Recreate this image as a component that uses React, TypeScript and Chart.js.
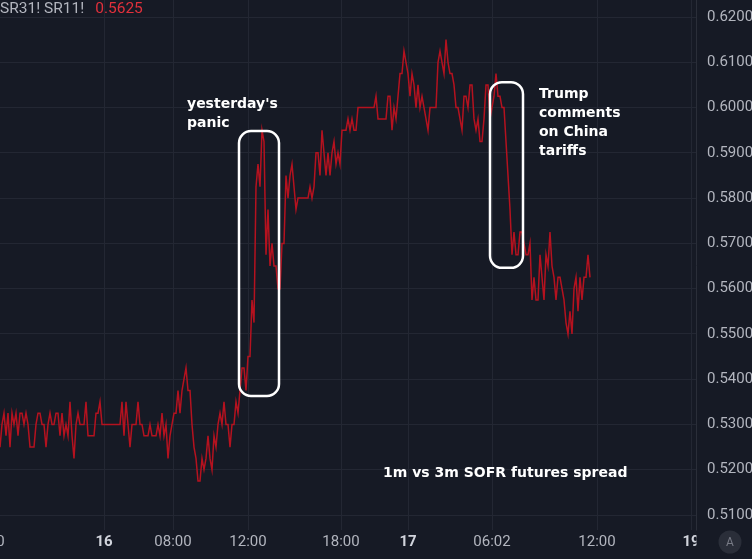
import React, { useEffect, useRef } from 'react';
import { Chart, registerables } from 'chart.js';

Chart.register(...registerables);

// 1m vs 3m SOFR futures spread (SR31! vs SR11!), one value per bar.
// Bars are numbered from FIRST_BAR; the time axis is bar-indexed, so gaps in trading close up.
const FIRST_BAR = -20;

const lateSession15 = [
  0.5300, 0.5325, 0.5300, 0.5300, 0.5275, 0.5325, 0.5300, 0.5300, 0.5325, 0.5300,
  0.5275, 0.5300, 0.5325, 0.5325, 0.5300, 0.5300, 0.5275, 0.5300, 0.5325, 0.5300,
  0.5250, 0.5300, 0.5325, 0.5275, 0.5325, 0.5250, 0.5325, 0.5300, 0.5325, 0.5275,
  0.5325, 0.5325, 0.5300, 0.5325, 0.5300, 0.5250, 0.5250, 0.5250, 0.5300, 0.5325,
  0.5325, 0.5300, 0.5300, 0.5250, 0.5300, 0.5325, 0.5300, 0.5300, 0.5325, 0.5325,
  0.5275, 0.5325, 0.5275, 0.5300, 0.5275, 0.5350, 0.5275, 0.5225, 0.5300, 0.5325,
  0.5300, 0.5300, 0.5300, 0.5350, 0.5275, 0.5275, 0.5275, 0.5275, 0.5325, 0.5325,
  0.5350, 0.5300,
];

const session16 = [
  0.5300, 0.5300, 0.5300, 0.5300, 0.5300, 0.5300, 0.5300, 0.5300, 0.5300, 0.5350,
  0.5275, 0.5350, 0.5300, 0.5250, 0.5300, 0.5300, 0.5300, 0.5350, 0.5300, 0.5300,
  0.5275, 0.5275, 0.5275, 0.5300, 0.5275, 0.5275, 0.5275, 0.5300, 0.5275, 0.5325,
  0.5275, 0.5300, 0.5225, 0.5275, 0.5300, 0.5325, 0.5325, 0.5375, 0.5325, 0.5375,
  0.5400, 0.5425, 0.5375, 0.5375, 0.5300, 0.5250, 0.5225, 0.5175, 0.5175, 0.5225,
  0.5200, 0.5225, 0.5275, 0.5225, 0.5200, 0.5275, 0.5250, 0.5300, 0.5325, 0.5300,
  0.5350, 0.5300, 0.5300, 0.5250, 0.5300, 0.5300, 0.5350, 0.5325, 0.5375,
];

const panic16 = [
  0.5425, 0.5425, 0.5375, 0.5450, 0.5450, 0.5575, 0.5525, 0.5825, 0.5875, 0.5825,
  0.5950, 0.5925, 0.5675, 0.5775, 0.5650, 0.5700, 0.5650, 0.5650, 0.5600, 0.5600,
  0.5700,
];

const rebound16 = [
  0.5700, 0.5850, 0.5800, 0.5850, 0.5875, 0.5825, 0.5775, 0.5800, 0.5800, 0.5800,
  0.5800, 0.5800, 0.5800, 0.5825, 0.5800, 0.5825, 0.5900, 0.5900, 0.5850, 0.5950,
  0.5900, 0.5850, 0.5900, 0.5850, 0.5900, 0.5925, 0.5875, 0.5900, 0.5875, 0.5950,
  0.5950, 0.5950, 0.5975, 0.5950, 0.5975, 0.5950, 0.5950, 0.6000, 0.6000, 0.6000,
  0.6000, 0.6000, 0.6000, 0.6000, 0.6000, 0.6000, 0.6025, 0.5975, 0.5975, 0.5975,
  0.5975, 0.5975, 0.6025, 0.6025, 0.5950, 0.6000, 0.5975, 0.6025,
];

const overnight17 = [
  0.6075, 0.6075, 0.6125, 0.6100, 0.6075, 0.6025, 0.6075, 0.6050, 0.6000, 0.6050,
  0.6000, 0.6025, 0.6000, 0.5975, 0.5950, 0.6000, 0.6000, 0.6000, 0.6000, 0.6100,
  0.6125, 0.6100, 0.6075, 0.6150, 0.6100, 0.6075, 0.6075, 0.6050, 0.6000, 0.6000,
  0.5975, 0.5950, 0.6025, 0.6025, 0.6000, 0.6050, 0.6050, 0.5975, 0.5950, 0.5975,
  0.5925, 0.5925, 0.5975, 0.6050, 0.6050, 0.5975, 0.6000, 0.6025, 0.6075, 0.6025,
  0.6025, 0.6000,
];

const tariffs17 = [
  0.6000, 0.5925, 0.5850, 0.5775, 0.5675, 0.5725, 0.5675, 0.5675, 0.5725, 0.5725,
  0.5700, 0.5675, 0.5675, 0.5700, 0.5575, 0.5625, 0.5575, 0.5575, 0.5675, 0.5625,
  0.5575, 0.5675, 0.5650, 0.5725, 0.5650, 0.5625, 0.5575, 0.5625, 0.5625, 0.5600,
  0.5575, 0.5525, 0.5500, 0.5550, 0.5500, 0.5600, 0.5625, 0.5550, 0.5625, 0.5575,
  0.5625, 0.5625, 0.5675, 0.5625,
];

const spread = [...lateSession15, ...session16, ...panic16, ...rebound16, ...overnight17, ...tariffs17];

// Price axis levels
const priceTicks = [0.51, 0.52, 0.53, 0.54, 0.55, 0.56, 0.57, 0.58, 0.59, 0.60, 0.61, 0.62];

// Time axis: bar positions and their labels (day numbers in bold)
const timeTickBars = [-7, 52, 86.5, 124, 170.5, 204, 246, 298.5, 345.5];
const timeTickLabels = ['20:00', '16', '08:00', '12:00', '18:00', '17', '06:02', '12:00', '19'];
const dayLabels = ['16', '17', '19'];

// Highlighted episodes and their notes, in bar / price units
const boxes = [
  { from: 119.5, to: 139.5, low: 0.5363, high: 0.5948 },
  { from: 245, to: 261.5, low: 0.5646, high: 0.6056 },
];
const notes = [
  { bar: 93.5, price: 0.5999, lines: ["yesterday's", 'panic'] },
  { bar: 269.5, price: 0.6021, lines: ['Trump', 'comments', 'on China', 'tariffs'] },
  { bar: 191.5, price: 0.5184, lines: ['1m vs 3m SOFR futures spread'] },
];

const BG = '#161a25';
const GRID = '#232733';
const AXIS_TEXT = '#b2b5be';
const DAY_TEXT = '#d1d4dc';
const LINE = '#b5121f';
const LAST_TEXT = '#e0303b';
const LEFT_SHIFT = 40; // the canvas starts a little left of the page edge

const overlayPlugin = {
  id: 'overlay',
  afterDatasetsDraw(chart: any) {
    const { ctx, scales } = chart;
    const x = scales.x;
    const y = scales.y;
    ctx.save();
    ctx.strokeStyle = '#ffffff';
    ctx.lineWidth = 2.5;
    for (const b of boxes) {
      const l = x.getPixelForValue(b.from);
      const r = x.getPixelForValue(b.to);
      const t = y.getPixelForValue(b.high);
      const btm = y.getPixelForValue(b.low);
      ctx.beginPath();
      ctx.roundRect(l, t, r - l, btm - t, 12);
      ctx.stroke();
    }
    ctx.fillStyle = '#ffffff';
    ctx.font = 'bold 14px "DejaVu Sans"';
    ctx.textAlign = 'left';
    ctx.textBaseline = 'alphabetic';
    for (const n of notes) {
      const px = x.getPixelForValue(n.bar);
      const py = y.getPixelForValue(n.price);
      n.lines.forEach((line, i) => ctx.fillText(line, px, py + i * 19));
    }
    ctx.restore();
  },
  afterDraw(chart: any) {
    const { ctx, chartArea, width, height } = chart;
    ctx.save();
    // corner under the price axis
    ctx.fillStyle = BG;
    ctx.fillRect(chartArea.right + 0.5, chartArea.bottom, width - chartArea.right, height - chartArea.bottom);
    ctx.beginPath();
    ctx.arc(LEFT_SHIFT + 730, 542, 11.5, 0, Math.PI * 2);
    ctx.fillStyle = '#2a2e39';
    ctx.fill();
    ctx.fillStyle = '#787b86';
    ctx.font = '12px Roboto';
    ctx.textAlign = 'center';
    ctx.textBaseline = 'middle';
    ctx.fillText('A', LEFT_SHIFT + 730, 542.5);

    // symbol header with last value
    ctx.textAlign = 'left';
    ctx.textBaseline = 'alphabetic';
    ctx.font = '15.5px Roboto';
    ctx.fillStyle = AXIS_TEXT;
    const symbol = 'SR31! SR11!';
    ctx.fillText(symbol, LEFT_SHIFT, 12.5);
    const w = ctx.measureText(symbol).width;
    ctx.fillStyle = LAST_TEXT;
    ctx.fillText(spread[spread.length - 1].toFixed(4), LEFT_SHIFT + w + 11, 12.5);
    ctx.restore();
  },
};

export default function App() {
  const canvasRef = useRef<HTMLCanvasElement>(null);

  useEffect(() => {
    document.body.style.margin = '0';
    document.body.style.background = BG;
    const canvas = canvasRef.current;
    if (!canvas) return;

    const points = spread.map((v, k) => ({ x: FIRST_BAR + k, y: v }));

    const chart = new Chart(canvas, {
      type: 'line',
      data: {
        datasets: [
          {
            data: points,
            borderColor: LINE,
            borderWidth: 1.5,
            pointRadius: 0,
            tension: 0,
            fill: false,
          },
        ],
      },
      options: {
        responsive: false,
        animation: false,
        devicePixelRatio: 1,
        layout: { padding: 0 },
        plugins: {
          legend: { display: false },
          tooltip: { enabled: false },
        },
        scales: {
          x: {
            type: 'linear',
            min: FIRST_BAR,
            max: 348,
            afterBuildTicks: (scale: any) => {
              scale.ticks = timeTickBars.map((v) => ({ value: v }));
            },
            afterFit: (scale: any) => {
              scale.height = 29;
              scale.paddingLeft = 0;
              scale.paddingRight = 0;
              scale.paddingTop = 0;
              scale.paddingBottom = 0;
            },
            grid: { color: GRID, drawTicks: false, lineWidth: 1 },
            border: { display: false },
            ticks: {
              autoSkip: false,
              maxRotation: 0,
              padding: 3,
              callback: (_v: any, i: number) => timeTickLabels[i],
              font: (c: any) => ({
                family: 'Roboto',
                size: 15,
                weight: dayLabels.includes(timeTickLabels[c.index]) ? 'bold' : 'normal',
              }),
              color: (c: any) => (dayLabels.includes(timeTickLabels[c.index]) ? DAY_TEXT : AXIS_TEXT),
            },
          },
          y: {
            type: 'linear',
            position: 'right',
            min: 0.50669,
            max: 0.62376,
            afterBuildTicks: (scale: any) => {
              scale.ticks = priceTicks.map((v) => ({ value: v }));
            },
            afterFit: (scale: any) => {
              scale.width = 56;
              scale.paddingTop = 0;
              scale.paddingBottom = 0;
              scale.paddingLeft = 0;
              scale.paddingRight = 0;
            },
            grid: { color: GRID, drawTicks: false, lineWidth: 1 },
            border: { display: true, color: '#2a2e39' },
            ticks: {
              padding: 11,
              color: AXIS_TEXT,
              font: { family: 'Roboto', size: 15 },
              callback: (v: any) => Number(v).toFixed(4),
            },
          },
        },
      },
      plugins: [overlayPlugin],
    });

    return () => chart.destroy();
  }, []);

  return (
    <div style={{ position: 'relative', width: 752, height: 559, overflow: 'hidden', background: BG }}>
      <canvas
        ref={canvasRef}
        width={752 + LEFT_SHIFT}
        height={559}
        style={{ position: 'absolute', left: -LEFT_SHIFT, top: 0, width: 752 + LEFT_SHIFT, height: 559 }}
      />
    </div>
  );
}
